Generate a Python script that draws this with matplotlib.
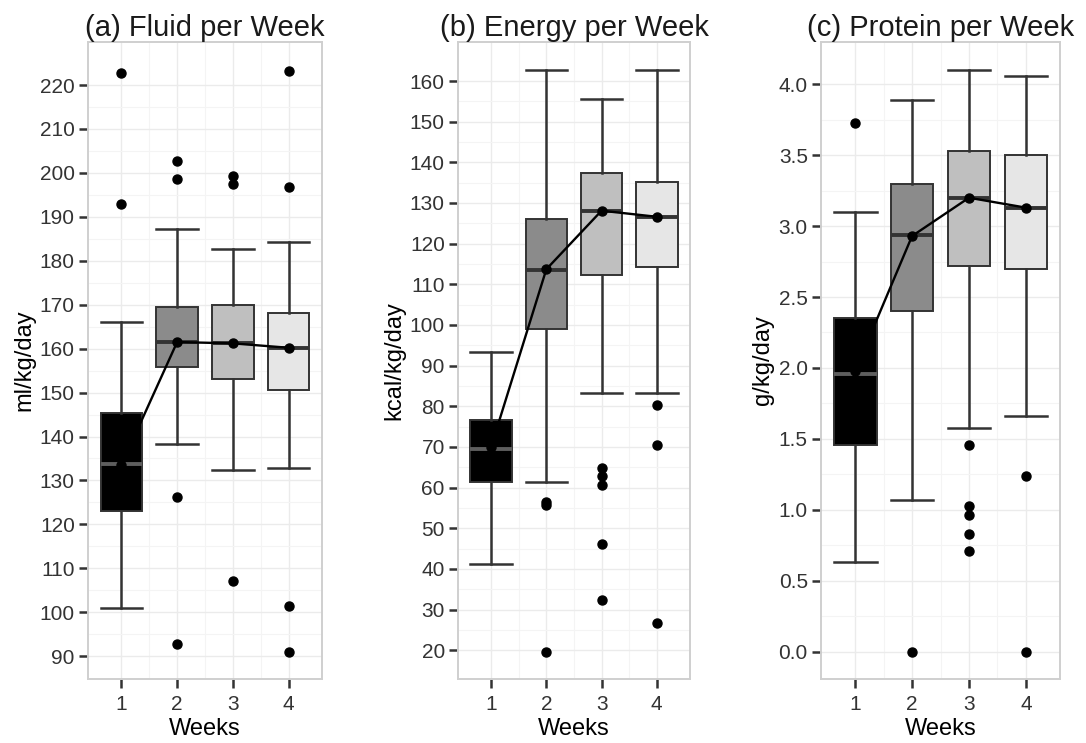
import matplotlib
matplotlib.use('Agg')
import matplotlib.pyplot as plt
import numpy as np

plt.rcParams['font.family'] = ['Liberation Sans', 'DejaVu Sans']

weeks = [1, 2, 3, 4]
week_labels = ['1', '2', '3', '4']
fills = ['#000000', '#8b8b8b', '#bfbfbf', '#e6e6e6']

# (a) fluid, ml/kg/day
fluid_whislo = [101.0, 138.4, 132.4, 132.8]
fluid_q1 = [123.0, 155.8, 153.1, 150.5]
fluid_med = [133.7, 161.5, 161.2, 160.2]
fluid_q3 = [145.4, 169.4, 170.0, 168.1]
fluid_whishi = [166.0, 187.3, 182.7, 184.3]
fluid_mean = [133.5, 161.5, 161.2, 160.2]
fluid_out = [[222.7, 193.0], [202.8, 198.5, 126.2, 92.7],
             [199.3, 197.4, 107.2], [223.3, 196.7, 101.5, 90.9]]

# (b) energy, kcal/kg/day
energy_whislo = [41.2, 61.4, 83.3, 83.2]
energy_q1 = [61.4, 99.0, 112.3, 114.3]
energy_med = [69.4, 113.5, 128.1, 126.5]
energy_q3 = [76.6, 126.0, 137.3, 135.2]
energy_whishi = [93.4, 162.7, 155.6, 162.7]
energy_mean = [70.0, 113.7, 128.1, 126.6]
energy_out = [[], [56.5, 55.7, 19.6], [64.7, 62.8, 60.6, 46.1, 32.3],
              [80.4, 70.5, 26.6]]

# (c) protein, g/kg/day
protein_whislo = [0.63, 1.07, 1.58, 1.66]
protein_q1 = [1.46, 2.40, 2.72, 2.70]
protein_med = [1.96, 2.94, 3.20, 3.13]
protein_q3 = [2.35, 3.30, 3.53, 3.50]
protein_whishi = [3.10, 3.89, 4.10, 4.06]
protein_mean = [1.98, 2.93, 3.20, 3.13]
protein_out = [[3.73], [0.0], [1.46, 1.03, 0.96, 0.83, 0.71], [1.24, 0.0]]

panels = [
    dict(title='(a) Fluid per Week', ylabel='ml/kg/day',
         lo=fluid_whislo, q1=fluid_q1, med=fluid_med, q3=fluid_q3,
         hi=fluid_whishi, mean=fluid_mean, out=fluid_out,
         ylim=(84.8, 229.8), yticks=np.arange(90, 221, 10), fmt='%d',
         rect=[0.081, 0.0861, 0.2155, 0.8574]),
    dict(title='(b) Energy per Week', ylabel='kcal/kg/day',
         lo=energy_whislo, q1=energy_q1, med=energy_med, q3=energy_q3,
         hi=energy_whishi, mean=energy_mean, out=energy_out,
         ylim=(12.9, 169.6), yticks=np.arange(20, 161, 10), fmt='%d',
         rect=[0.4217, 0.0861, 0.2136, 0.8574]),
    dict(title='(c) Protein per Week', ylabel='g/kg/day',
         lo=protein_whislo, q1=protein_q1, med=protein_med, q3=protein_q3,
         hi=protein_whishi, mean=protein_mean, out=protein_out,
         ylim=(-0.193, 4.298), yticks=np.arange(0, 4.01, 0.5), fmt='%.1f',
         rect=[0.756, 0.0861, 0.2201, 0.8574]),
]

fig = plt.figure(figsize=(10.86, 7.43), dpi=100)

for p in panels:
    ax = fig.add_axes(p['rect'])
    stats = []
    for i in range(4):
        stats.append(dict(whislo=p['lo'][i], q1=p['q1'][i], med=p['med'][i],
                          q3=p['q3'][i], whishi=p['hi'][i], fliers=p['out'][i]))
    bp = ax.bxp(stats, positions=weeks, widths=0.75, capwidths=0.75,
                patch_artist=True, showfliers=True,
                boxprops=dict(edgecolor='#333333', linewidth=1.4),
                whiskerprops=dict(color='#333333', linewidth=1.8),
                capprops=dict(color='#333333', linewidth=1.8),
                medianprops=dict(color='#333333', linewidth=2.8),
                flierprops=dict(marker='o', markerfacecolor='black',
                                markeredgecolor='black', markersize=6.5,
                                linestyle='none'))
    for box, c in zip(bp['boxes'], fills):
        box.set_facecolor(c)
    bp['medians'][0].set_color('#5e5e5e')

    ax.plot(weeks, p['mean'], color='black', linewidth=1.7, marker='o',
            markersize=6.5, zorder=5)

    ax.set_xlim(0.4, 4.6)
    ax.set_ylim(*p['ylim'])
    ax.set_xticks(weeks)
    ax.set_xticklabels(week_labels)
    ax.set_yticks(p['yticks'])
    ax.set_yticklabels([p['fmt'] % v for v in p['yticks']])
    step = p['yticks'][1] - p['yticks'][0]
    ax.set_yticks(p['yticks'][:-1] + step / 2, minor=True)
    ax.set_xticks([1.5, 2.5, 3.5], minor=True)
    ax.set_axisbelow(True)
    ax.grid(which='major', color='#ebebeb', linewidth=1.0)
    ax.grid(which='minor', color='#f4f4f4', linewidth=0.8)
    ax.tick_params(which='minor', length=0)
    ax.tick_params(which='major', length=6.5, width=1.8, color='#333333',
                   labelcolor='#333333', labelsize=15, pad=3)
    ax.tick_params(axis='x', which='major', pad=5)
    for s in ax.spines.values():
        s.set_color('#cfcfcf')
        s.set_linewidth(1.4)
    ax.set_title(p['title'], fontsize=21, pad=4, color='#1a1a1a')
    ax.set_xlabel('Weeks', fontsize=17, labelpad=3)
    ax.set_ylabel(p['ylabel'], fontsize=17, labelpad=3)

fig.savefig('out.png', dpi=100)
